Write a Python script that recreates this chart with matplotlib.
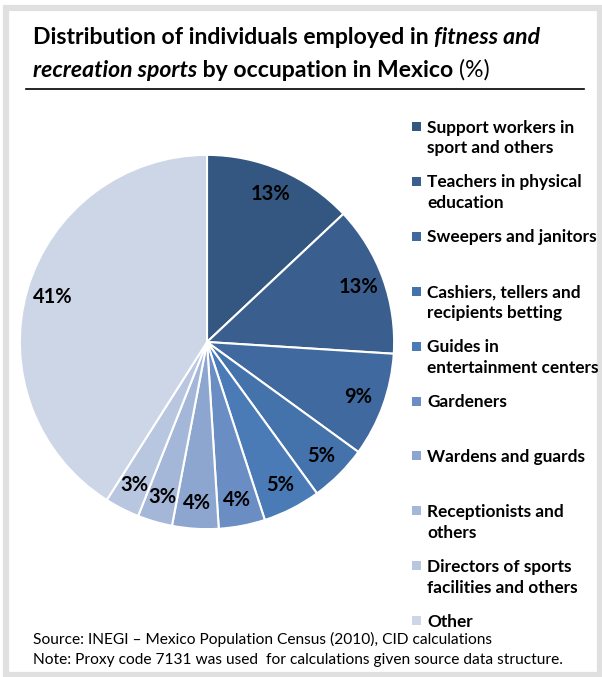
import matplotlib.pyplot as plt
from matplotlib.patches import Rectangle

# occupation shares (%) - clockwise from 12 o'clock
occupations = [
    "Support workers in\nsport and others",
    "Teachers in physical\neducation",
    "Sweepers and janitors",
    "Cashiers, tellers and\nrecipients betting",
    "Guides in\nentertainment centers",
    "Gardeners",
    "Wardens and guards",
    "Receptionists and\nothers",
    "Directors of sports\nfacilities and others",
    "Other",
]
shares = [13, 13, 9, 5, 5, 4, 4, 3, 3, 41]
colors = ["#345781", "#3a5f8f", "#3f699f", "#4472ab", "#4a7bb7",
          "#6a8ec3", "#8ca6cf", "#a5b7d9", "#b9c6e0", "#ccd6e7"]

source_note = "Source: INEGI \u2013 Mexico Population Census (2010), CID calculations"
proxy_note = "Note: Proxy code 7131 was used  for calculations given source data structure."

FONT = "Lato"
W, H = 602, 677

fig = plt.figure(figsize=(W / 100, H / 100), dpi=100)
fig.patch.set_facecolor("white")


def px(x, y):
    # pixel (from top-left) -> figure fraction
    return x / W, 1 - y / H


# grey frame round the whole thing
fig.patches.append(Rectangle(px(6, 675), (600 - 6) / W, (675 - 8) / H,
                             transform=fig.transFigure, fill=False,
                             edgecolor="#e0e0e0", linewidth=4.5))

# title, mixed bold / italic runs
renderer = fig.canvas.get_renderer()


def write_runs(x, y, runs, size):
    for txt, weight, style in runs:
        t = fig.text(*px(x, y), txt, fontsize=size, fontweight=weight,
                     fontstyle=style, family=FONT, va="baseline", ha="left")
        bb = t.get_window_extent(renderer)
        x = bb.x1


write_runs(33, 44, [("Distribution of individuals employed in ", "bold", "normal"),
                    ("fitness and", "bold", "italic")], 16.6)
write_runs(33, 77, [("recreation sports", "bold", "italic"),
                    (" by occupation in Mexico ", "bold", "normal"),
                    ("(%)", "normal", "normal")], 16.6)
fig.add_artist(plt.Line2D([26 / W, 584 / W], [1 - 89 / H, 1 - 89 / H],
                          transform=fig.transFigure, color="black", lw=1.2))

# pie
cx, cy, r = 207, 342, 189
ax = fig.add_axes([(cx - r) / W, 1 - (cy + r) / H, 2 * r / W, 2 * r / H])
wedges, _, autotexts = ax.pie(
    shares, colors=colors, startangle=90, counterclock=False,
    autopct="%d%%", pctdistance=0.86,
    wedgeprops=dict(edgecolor="white", linewidth=1.5),
    textprops=dict(fontsize=14.5, fontweight="bold", family=FONT, color="black"),
)
ax.set_xlim(-1.01, 1.01)
ax.set_ylim(-1.01, 1.01)
ax.set_aspect("equal")

# legend drawn by hand so the rows keep an even pitch
for i, (label, col) in enumerate(zip(occupations, colors)):
    base = 132.5 + 54.9 * i
    fig.patches.append(Rectangle(px(412, base - 1.5), 9 / W, 9 / H,
                                 transform=fig.transFigure, facecolor=col,
                                 edgecolor="none"))
    for k, line in enumerate(label.split("\n")):
        fig.text(*px(427, base + 21 * k), line, fontsize=12.4, fontweight="bold",
                 family=FONT, va="baseline", ha="left")

fig.text(*px(33, 644), source_note, fontsize=11.2, family=FONT, va="baseline")
fig.text(*px(33, 664), proxy_note, fontsize=11.2, family=FONT, va="baseline")

fig.savefig("out.png", dpi=100)
